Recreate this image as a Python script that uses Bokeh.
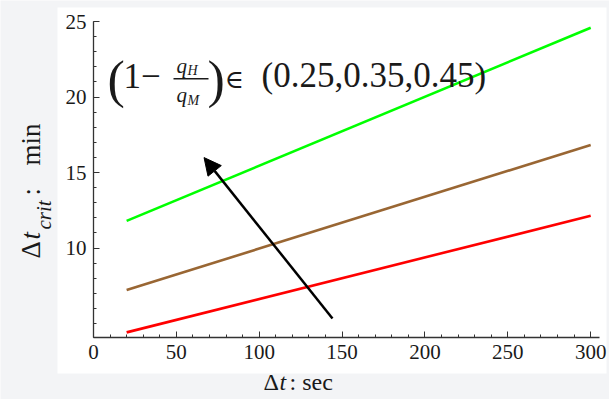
from math import pi
from bokeh.plotting import figure
from bokeh.models import Range1d, FixedTicker, Label, BoxAnnotation, Arrow, NormalHead
from bokeh.embed import file_html
from bokeh.resources import INLINE

# ---- data ----
t_sec = [20, 300]
crit_025 = [4.42, 12.14]   # red
crit_035 = [7.22, 16.83]   # brown
crit_045 = [11.80, 24.59]  # green
x_ticks = [0, 50, 100, 150, 200, 250, 300]
y_ticks = [10, 15, 20, 25]

# ---- geometry: data box (0..305.3, 4.08..25) sits at pixels x 93..599, y 21..337 ----
W, H = 609, 399
AX_L, AX_R, AX_T, AX_B = 93, 599, 21, 337
X0, X1 = 0, 305.3
Y0, Y1 = 4.08, 25.0
kx = (AX_R - AX_L) / (X1 - X0)
ky = (AX_B - AX_T) / (Y1 - Y0)
XS, XE = X0 - AX_L / kx, X1 + (W - AX_R) / kx
YS, YE = Y0 - (H - AX_B) / ky, Y1 + AX_T / ky

def dx(px):
    return XS + px / kx

def dy(py):
    return YE - py / ky

p = figure(width=W, height=H, x_range=Range1d(XS, XE), y_range=Range1d(YS, YE),
           output_backend="svg", toolbar_location=None,
           min_border_left=0, min_border_right=0, min_border_top=0, min_border_bottom=0,
           background_fill_color="#f3f4f6", border_fill_color="#f3f4f6",
           outline_line_color=None)
p.xgrid.visible = False
p.ygrid.visible = False

# white panel behind everything
p.add_layout(BoxAnnotation(left=dx(57), right=dx(606), top=dy(7), bottom=dy(373),
                           fill_color="white", fill_alpha=1.0, line_color=None,
                           level="underlay"))

p.xaxis.fixed_location = Y0
p.yaxis.fixed_location = X0
p.xaxis.bounds = (X0, X1)
p.yaxis.bounds = (Y0, Y1)
for ax, ticks, minor in ((p.xaxis[0], x_ticks, list(range(0, 301, 10))),
                         (p.yaxis[0], y_ticks, list(range(5, 26)))):
    ax.ticker = FixedTicker(ticks=ticks, minor_ticks=minor)
    ax.major_tick_in = 6
    ax.major_tick_out = 0
    ax.minor_tick_in = 3
    ax.minor_tick_out = 0
    ax.axis_line_color = "#333333"
    ax.axis_line_width = 1.3
    ax.major_tick_line_color = "#333333"
    ax.minor_tick_line_color = "#333333"
    ax.major_label_text_font = "Liberation Serif"
    ax.major_label_text_font_size = "21px"
    ax.major_label_text_color = "#1a1a1a"
    ax.major_label_standoff = 7

p.line(t_sec, crit_025, line_color="#ff0000", line_width=2.6)
p.line(t_sec, crit_035, line_color="#996633", line_width=2.6)
p.line(t_sec, crit_045, line_color="#00ff00", line_width=2.6)

# arrow
p.add_layout(Arrow(x_start=144.2, y_start=5.34, x_end=66.7, y_end=15.99,
                   line_color="black", line_width=2.5,
                   end=NormalHead(size=17, fill_color="black", line_color="black")))

MID = 0.3375  # em distance from alphabetic baseline to middle of em box

def lab(px, py, text, size, italic=False, font="Liberation Serif", rot=False):
    # (px, py) = start of the text on its baseline, in picture pixels
    if rot:
        cx, cy, ang = px - MID * size, py, pi / 2
    else:
        cx, cy, ang = px, py - MID * size, 0.0
    p.add_layout(Label(x=dx(cx), y=dy(cy), text=text, text_font=font,
                       text_font_size=f"{size}px",
                       text_font_style="italic" if italic else "normal",
                       text_color="#1a1a1a", text_align="left",
                       text_baseline="middle", angle=ang))

# formula annotation
lab(107, 97, "(", 52)
lab(123, 87, "1\u2212", 35)
lab(176, 73, "q", 21, italic=True)
lab(187, 75, "H", 14, italic=True)
lab(176, 102, "q", 21, italic=True)
lab(187, 105, "M", 14, italic=True)
p.add_layout(BoxAnnotation(left=dx(173), right=dx(208), top=dy(77.6), bottom=dy(79.0),
                           fill_color="#1a1a1a", fill_alpha=1.0, line_color=None))
lab(207, 97, ")", 52)
lab(224, 87, "\u2208", 26, font="DejaVu Serif")
lab(261, 87, "(0.25,0.35,0.45)", 35)

# y axis label (rotated)
lab(40, 258, "\u0394", 27, rot=True)
lab(40, 239, "t", 27, italic=True, rot=True)
lab(51, 229, "crit", 21, italic=True, rot=True)
lab(40, 195, ":", 27, rot=True)
lab(40, 165, "min", 27, rot=True)

# x axis label
lab(263, 390, "\u0394", 24)
lab(279, 390, "t", 24, italic=True)
lab(289, 390, ": sec", 24)

open("out.html", "w").write(file_html(p, INLINE))
